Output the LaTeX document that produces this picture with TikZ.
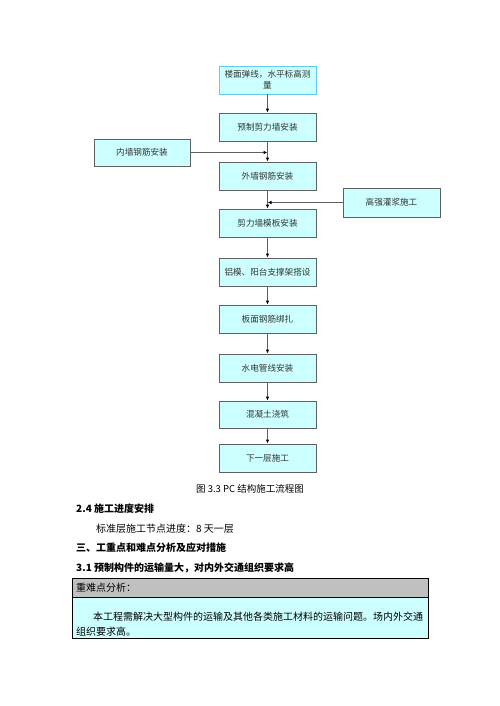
\documentclass[tikz,border=0pt]{standalone}
\usepackage{fontspec}
\setmainfont{Noto Sans CJK SC}
\usetikzlibrary{arrows.meta}
\definecolor{boxfill}{HTML}{CCFFFF}
\definecolor{boxline}{HTML}{606060}
\definecolor{firstline}{HTML}{66CCEE}
\definecolor{hdrfill}{HTML}{C0C0C0}
\definecolor{boxtext}{HTML}{333333}
\tikzset{
  stepbox/.style={draw=boxline, line width=0.8pt, fill=boxfill, text=boxtext, minimum width=97pt, minimum height=28pt, inner sep=1pt, font=\fontsize{8.6}{11}\selectfont, align=center},
  arr/.style={draw=boxline, line width=0.8pt, -{Latex[length=4pt,width=3.5pt,black]}},
  txt/.style={inner sep=0pt, anchor=west, font=\fontsize{10}{12}\selectfont},
  btxt/.style={txt, font=\fontsize{10}{12}\selectfont\bfseries},
}
\begin{document}
\begin{tikzpicture}[x=1pt,y=-1pt]
\useasboundingbox (0,0) rectangle (500,706);
\fill[white] (0,0) rectangle (500,706);
% main column
\node[stepbox, draw=firstline] (b1) at (267.5,80) {楼面弹线，水平标高测\\量};
\node[stepbox] (b2) at (267.5,127) {预制剪力墙安装};
\node[stepbox] (b3) at (267.5,176) {外墙钢筋安装};
\node[stepbox] (b4) at (267.5,223) {剪力墙模板安装};
\node[stepbox] (b5) at (267.5,272) {铝模、阳台支撑架搭设};
\node[stepbox] (b6) at (267.5,319) {板面钢筋绑扎};
\node[stepbox] (b7) at (267.5,368) {水电管线安装};
\node[stepbox, minimum height=27pt] (b8) at (267.5,414.5) {混凝土浇筑};
\node[stepbox] (b9) at (267.5,458) {下一层施工};
% side boxes
\node[stepbox, minimum width=96pt, minimum height=27pt] (l1) at (142,152.5) {内墙钢筋安装};
\node[stepbox, minimum height=29pt] (r1) at (391.5,202.5) {高强灌浆施工};
% connectors
\foreach \a/\b in {b1/b2,b2/b3,b3/b4,b4/b5,b5/b6,b6/b7,b7/b8,b8/b9}
  \draw[arr] (\a.south) -- (\b.north);
\coordinate (jl) at (267.5,152.5);
\coordinate (jr) at (267.5,202.5);
\draw[arr] (l1.east) -- (jl);
\draw[arr] (r1.west) -- (jr);
% caption and text
\node[inner sep=0pt, font=\fontsize{9.5}{11}\selectfont] (cap) at (250,489) {图 3.3 PC 结构施工流程图};
\node[btxt] (h1) at (76,509) {2.4 施工进度安排};
\node[txt] (t1) at (96,529) {标准层施工节点进度：8 天一层};
\node[btxt] (h2) at (76,548) {三、工重点和难点分析及应对措施};
\node[btxt] (h3) at (76,568) {3.1 预制构件的运输量大，对内外交通组织要求高};
% table
\fill[hdrfill] (72,578) rectangle (428,597);
\fill[boxfill] (72,597) rectangle (428,638);
\draw[line width=0.9pt] (72,578) rectangle (428,638);
\draw[line width=0.9pt] (72,597) -- (428,597);
\node[txt] (th) at (76,588) {重难点分析：};
\node[txt] (tb1) at (93,617) {本工程需解决大型构件的运输及其他各类施工材料的运输问题。场内外交通};
\node[txt] (tb2) at (76,631.5) {组织要求高。};
\end{tikzpicture}
\end{document}
